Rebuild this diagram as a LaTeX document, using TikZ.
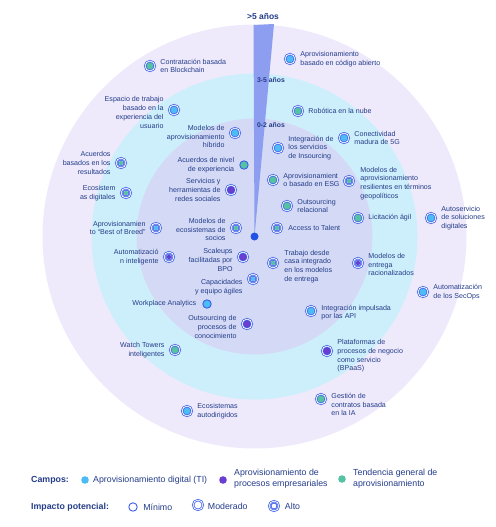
\documentclass[tikz,border=0pt]{standalone}
\usepackage{fontspec}
\setmainfont{Liberation Sans}
\usetikzlibrary{positioning}

\definecolor{navy}{HTML}{233C88}
\definecolor{ring}{HTML}{3B5DE8}
\definecolor{tcyan}{HTML}{4DBBF5}
\definecolor{tpurple}{HTML}{6A3DD2}
\definecolor{tgreen}{HTML}{55C2A3}
\definecolor{outerc}{HTML}{EEEAFC}
\definecolor{midc}{HTML}{CDEFFB}
\definecolor{innerc}{HTML}{D4DAF6}
\definecolor{wedgec}{HTML}{8D9EF0}
\definecolor{dotc}{HTML}{2152E3}

\begin{document}
\begin{tikzpicture}[x=1pt, y=-1pt,
    txt/.style={font=\fontsize{7.1}{8.7}\selectfont, text=navy, inner sep=0pt},
    lt/.style={txt, align=left},
    rt/.style={txt, align=right},
    leg/.style={font=\fontsize{8.8}{10.9}\selectfont, text=navy, inner sep=0pt, align=left},
    legb/.style={leg, font=\bfseries\fontsize{8.8}{10.9}\selectfont},
    yrs/.style={font=\bfseries\fontsize{6.8}{8}\selectfont, text=navy, inner sep=0pt},
    minimo/.style={circle, fill=#1, draw=ring, line width=0.9pt, minimum size=8.4pt, inner sep=0pt},
    moderado/.style={circle, fill=#1, draw=ring, double=white, double distance=0.8pt,
        line width=0.75pt, minimum size=9.8pt, inner sep=0pt},
    alto/.style={moderado=white, path picture={
        \fill[#1] (path picture bounding box.center) circle[radius=2.2pt];
        \draw[ring, line width=0.7pt] (path picture bounding box.center) circle[radius=2.9pt];}},
    campo/.style={circle, fill=#1, minimum size=7.6pt, inner sep=0pt},
    node distance=5pt
]
    \useasboundingbox (0,0) rectangle (495,527);
    \coordinate (c) at (254.5,236.5);

    % Background rings: >5, 3-5 and 0-2 years
    \foreach \r/\col in {212/outerc, 163/midc, 118/innerc}
        {
            \fill[\col] (c) circle[radius=\r pt];
        }

    % Time wedge
    \fill[wedgec] (253.5,25) -- (274,24) -- (c) -- cycle;
    \node[yrs, font=\bfseries\fontsize{8.5}{10}\selectfont] (mas5) at (263,16) {>5 años};
    \node[yrs, anchor=west] (tres5) at (257,80) {3-5 años};
    \node[yrs, anchor=west] (cero2) at (257,125) {0-2 años};

    % Outer ring
    \node[moderado=tgreen] (blockchain) at (150,66) {};
    \node[lt, right=of blockchain] (blockchain-t) {Contratación basada\\en Blockchain};
    \node[moderado=tcyan] (opensource) at (290,59) {};
    \node[lt, right=of opensource] (opensource-t) {Aprovisionamiento\\basado en código abierto};
    \node[moderado=tcyan] (autoserv) at (431,218) {};
    \node[lt, right=of autoserv] (autoserv-t) {Autoservicio\\de soluciones\\digitales};
    \node[moderado=tcyan] (secops) at (423,292) {};
    \node[lt, right=of secops] (secops-t) {Automatización\\de los SecOps};
    \node[moderado=tgreen] (contratosia) at (321,399) {};
    \node[lt, right=of contratosia, yshift=-5.5pt] (contratosia-t) {Gestión de\\contratos basada\\en la IA};
    \node[moderado=tcyan] (autodir) at (187,411) {};
    \node[lt, right=of autodir] (autodir-t) {Ecosistemas\\autodirigidos};

    % Middle ring
    \node[moderado=tcyan] (espacio) at (174,110) {};
    \node[rt, left=of espacio, yshift=-2.5pt] (espacio-t) {Espacio de trabajo\\basado en la\\experiencia del\\usuario};
    \node[moderado=tgreen] (robotica) at (298,111) {};
    \node[lt, right=of robotica] (robotica-t) {Robótica en la nube};
    \node[moderado=tcyan] (cincog) at (344,138) {};
    \node[lt, right=of cincog] (cincog-t) {Conectividad\\madura de 5G};
    \node[alto=tgreen] (resultados) at (121,163) {};
    \node[rt, left=of resultados] (resultados-t) {Acuerdos\\basados en los\\resultados};
    \node[alto=tgreen] (resiliente) at (349,181) {};
    \node[lt, right=6pt of resiliente, yshift=-2.5pt] (resiliente-t) {Modelos de\\aprovisionamiento\\resilientes en términos\\geopolíticos};
    \node[alto=tgreen] (ecodig) at (126,193) {};
    \node[rt, left=of ecodig] (ecodig-t) {Ecosistem\\as digitales};
    \node[moderado=tgreen] (licitacion) at (358,218) {};
    \node[lt, right=of licitacion] (licitacion-t) {Licitación ágil};
    \node[alto=tcyan] (bestbreed) at (156,228) {};
    \node[rt, left=of bestbreed] (bestbreed-t) {Aprovisionamien\\to “Best of Breed”};
    \node[alto=tpurple] (autointel) at (169,257) {};
    \node[rt, left=of autointel] (autointel-t) {Automatizació\\n inteligente};
    \node[alto=tpurple] (racional) at (358,263) {};
    \node[lt, right=of racional, yshift=-1.5pt] (racional-t) {Modelos de\\entrega\\racionalizados};
    \node[moderado=tcyan] (api) at (311,311) {};
    \node[lt, right=of api, yshift=-1.5pt] (api-t) {Integración impulsada\\por las API};
    \node[moderado=tgreen] (watch) at (175,350) {};
    \node[rt, left=of watch] (watch-t) {Watch Towers\\inteligentes};
    \node[moderado=tpurple] (bpaas) at (327,351) {};
    \node[lt, right=of bpaas, yshift=-5pt] (bpaas-t) {Plataformas de\\procesos de negocio\\como servicio\\(BPaaS)};

    % Inner ring
    \node[moderado=tcyan] (hibrido) at (235,133) {};
    \node[rt, left=of hibrido, yshift=-3.5pt] (hibrido-t) {Modelos de\\aprovisionamiento\\híbrido};
    \node[moderado=tcyan] (insourcing) at (278,148) {};
    \node[lt, right=of insourcing] (insourcing-t) {Integración de\\los servicios\\de Insourcing};
    \node[minimo=tgreen] (nivelexp) at (244,165) {};
    \node[rt, left=of nivelexp] (nivelexp-t) {Acuerdos de nivel\\de experiencia};
    \node[moderado=tgreen] (esg) at (273,180) {};
    \node[lt, right=of esg] (esg-t) {Aprovisionamient\\o basado en ESG};
    \node[moderado=tpurple] (redes) at (231,190) {};
    \node[rt, left=of redes] (redes-t) {Servicios y\\herramientas de\\redes sociales};
    \node[moderado=tgreen] (relacional) at (287,206) {};
    \node[lt, right=of relacional] (relacional-t) {Outsourcing\\relacional};
    \node[alto=tgreen] (ecosocios) at (236,228) {};
    \node[rt, left=of ecosocios, yshift=-1.5pt] (ecosocios-t) {Modelos de\\ecosistemas de\\socios};
    \node[alto=tgreen] (talent) at (277,228) {};
    \node[lt, right=6pt of talent] (talent-t) {Access to Talent};
    \node[moderado=tpurple] (scaleups) at (243,257) {};
    \node[rt, left=of scaleups, yshift=-3pt] (scaleups-t) {Scaleups\\facilitadas por\\BPO};
    \node[alto=tgreen] (casa) at (273,263) {};
    \node[lt, right=6pt of casa, yshift=-3.5pt] (casa-t) {Trabajo desde\\casa integrado\\en los modelos\\de entrega};
    \node[alto=tcyan] (agiles) at (253,279) {};
    \node[rt, left=of agiles, yshift=-8pt] (agiles-t) {Capacidades\\y equipo ágiles};
    \node[minimo=tcyan] (workplace) at (207,304) {};
    \node[rt, left=6pt of workplace] (workplace-t) {Workplace Analytics};
    \node[moderado=tpurple] (conocimiento) at (247,324) {};
    \node[rt, left=of conocimiento, yshift=-3pt] (conocimiento-t) {Outsourcing de\\procesos de\\conocimiento};

    % Centre
    \node[circle, fill=dotc, minimum size=8pt, inner sep=0pt] (centro) at (c) {};

    % Legend
    \node[legb, anchor=west] (campos) at (31,480) {Campos:};
    \node[campo=tcyan] (ti) at (85,480) {};
    \node[leg, right=4pt of ti] (ti-t) {Aprovisionamiento digital (TI)};
    \node[campo=tpurple] (bpo) at (223,480) {};
    \node[leg, right=7pt of bpo, yshift=1.5pt] (bpo-t) {Aprovisionamiento de\\procesos empresariales};
    \node[campo=tgreen] (general) at (342,479) {};
    \node[leg, right=7pt of general] (general-t) {Tendencia general de\\aprovisionamiento};

    \node[legb, anchor=west] (impacto) at (31,507) {Impacto potencial:};
    \node[minimo=white] (minimo) at (133,507) {};
    \node[leg, right=5.5pt of minimo] (minimo-t) {Mínimo};
    \node[moderado=white] (moderado) at (198,505) {};
    \node[leg, right=4.5pt of moderado, yshift=-1pt] (moderado-t) {Moderado};
    \node[alto=white] (alto) at (274,506) {};
    \node[leg, right=5.5pt of alto] (alto-t) {Alto};

\end{tikzpicture}
\end{document}
